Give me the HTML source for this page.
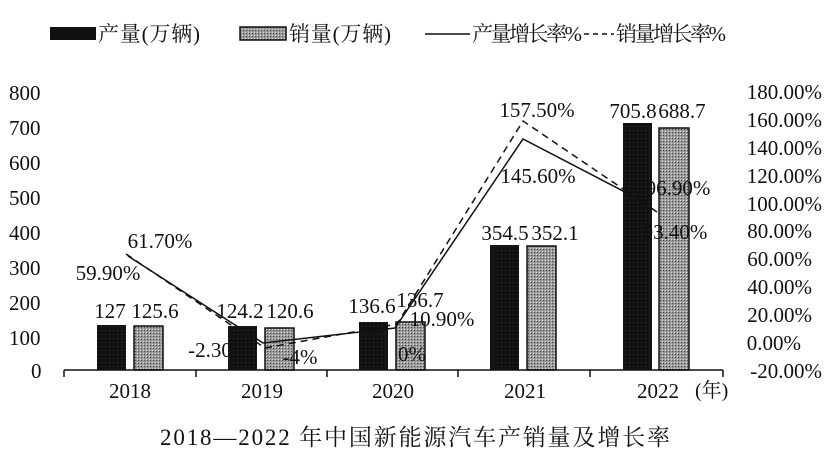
<!DOCTYPE html>
<html><head><meta charset="utf-8"><style>
html,body{margin:0;padding:0;background:#fff;}
svg{display:block;}
text{font-family:"Liberation Serif","Noto Serif CJK SC","Noto Sans CJK SC",serif;fill:#111;}
</style></head><body>
<svg width="830" height="458" viewBox="0 0 830 458" xmlns="http://www.w3.org/2000/svg">
<defs>
<pattern id="g" width="3" height="3" patternUnits="userSpaceOnUse"><rect width="3" height="3" fill="#9a9a9a"/><rect width="1" height="1" fill="#444"/><rect x="2" y="2" width="1" height="1" fill="#ddd"/></pattern>
<pattern id="k" width="4" height="4" patternUnits="userSpaceOnUse"><rect width="4" height="4" fill="#111"/><rect x="1" y="2" width="1" height="1" fill="#333"/></pattern>
</defs>
<!-- legend -->
<rect x="50" y="27" width="46" height="13" fill="#111"/>
<text x="98" y="41" font-size="21" textLength="102">产量(万辆)</text>
<rect x="240" y="27" width="46" height="13" fill="url(#g)" stroke="#111" stroke-width="1.5"/>
<text x="289" y="41" font-size="21" textLength="102">销量(万辆)</text>
<line x1="425" y1="34" x2="470" y2="34" stroke="#111" stroke-width="1.5"/>
<text x="472" y="41" font-size="21" textLength="110">产量增长率%</text>
<line x1="584" y1="34" x2="614" y2="34" stroke="#111" stroke-width="1.5" stroke-dasharray="5,4"/>
<text x="616" y="41" font-size="21" textLength="110">销量增长率%</text>
<!-- left axis labels -->
<g font-size="21">
<text x="9" y="100">800</text><text x="9" y="135">700</text><text x="9" y="170">600</text><text x="9" y="205">500</text>
<text x="9" y="240">400</text><text x="9" y="275">300</text><text x="9" y="310">200</text><text x="9" y="345">100</text>
<text x="31" y="378">0</text>
</g>
<!-- right axis labels -->
<g font-size="21" text-anchor="end">
<text x="822" y="99">180.00%</text><text x="822" y="127">160.00%</text><text x="822" y="155">140.00%</text><text x="822" y="183">120.00%</text>
<text x="822" y="211">100.00%</text><text x="812" y="238">80.00%</text><text x="812" y="266">60.00%</text><text x="812" y="294">40.00%</text>
<text x="812" y="322">20.00%</text><text x="801" y="350">0.00%</text><text x="822" y="378">-20.00%</text>
</g>
<!-- bars -->
<rect x="97" y="325" width="29" height="45" fill="url(#k)"/>
<rect x="134" y="326" width="29" height="44" fill="url(#g)" stroke="#111" stroke-width="1.5"/>
<rect x="228" y="326" width="29" height="44" fill="url(#k)"/>
<rect x="265" y="328" width="29" height="42" fill="url(#g)" stroke="#111" stroke-width="1.5"/>
<rect x="359" y="322" width="29" height="48" fill="url(#k)"/>
<rect x="396" y="322" width="29" height="48" fill="url(#g)" stroke="#111" stroke-width="1.5"/>
<rect x="490" y="245" width="29" height="125" fill="url(#k)"/>
<rect x="527" y="246" width="29" height="124" fill="url(#g)" stroke="#111" stroke-width="1.5"/>
<rect x="623" y="123" width="29" height="247" fill="url(#k)"/>
<rect x="659" y="128" width="30" height="242" fill="url(#g)" stroke="#111" stroke-width="1.5"/>
<!-- x axis -->
<line x1="64" y1="370" x2="723" y2="370" stroke="#111" stroke-width="1.5"/>
<g stroke="#111" stroke-width="1.5">
<line x1="64" y1="370" x2="64" y2="377"/><line x1="196" y1="370" x2="196" y2="377"/><line x1="327" y1="370" x2="327" y2="377"/>
<line x1="458" y1="370" x2="458" y2="377"/><line x1="590" y1="370" x2="590" y2="377"/><line x1="723" y1="370" x2="723" y2="377"/>
</g>
<g font-size="21" text-anchor="middle">
<text x="130" y="398">2018</text><text x="262" y="398">2019</text><text x="393" y="398">2020</text><text x="525" y="398">2021</text><text x="658" y="398">2022</text>
</g>
<text x="695" y="397" font-size="20">(年)</text>
<!-- lines -->
<polyline points="128,256 263,343 395,328 523,139 648,204" fill="none" stroke="#111" stroke-width="1.5"/>
<polyline points="126,254 265,348 397,324 523,121 657,212" fill="none" stroke="#111" stroke-width="1.5" stroke-dasharray="7,5"/>
<!-- value labels -->
<g font-size="21" text-anchor="middle">
<text x="110" y="318">127</text><text x="155" y="318">125.6</text>
<text x="240" y="318">124.2</text><text x="290" y="318">120.6</text>
<text x="372" y="313">136.6</text><text x="420" y="307">136.7</text>
<text x="505" y="240">354.5</text><text x="555" y="240">352.1</text>
<text x="633" y="118">705.8</text><text x="682" y="118">688.7</text>
<text x="160" y="248">61.70%</text><text x="108" y="280">59.90%</text>
<text x="210" y="357">-2.30</text><text x="300" y="364">-4%</text>
<text x="442" y="326">10.90%</text><text x="412" y="361">0%</text>
<text x="537" y="117">157.50%</text><text x="538" y="183">145.60%</text>
<text x="678" y="195">96.90%</text><text x="675" y="239">93.40%</text>
</g>
<!-- title -->
<text x="415" y="445" font-size="23" text-anchor="middle" textLength="510">2018—2022 年中国新能源汽车产销量及增长率</text>
</svg>
</body></html>
